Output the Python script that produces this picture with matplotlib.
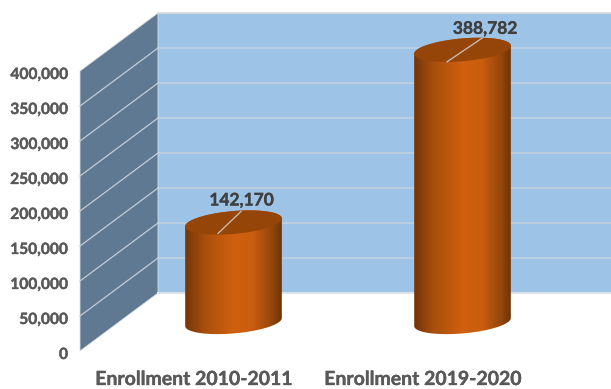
import numpy as np
from matplotlib import pyplot as plt
from matplotlib import patheffects as pe
from matplotlib.colors import LinearSegmentedColormap
from matplotlib.patches import Polygon

categories = ["Enrollment 2010-2011", "Enrollment 2019-2020"]
enrollment = [142170, 388782]
value_labels = ["142,170", "388,782"]
y_ticks = [0, 50000, 100000, 150000, 200000, 250000, 300000, 350000, 400000]
y_tick_labels = ["0", "50,000", "100,000", "150,000", "200,000", "250,000", "300,000", "350,000", "400,000"]

plt.rcParams['font.family'] = ['Lato', 'DejaVu Sans']

W, H = 611, 389
PX_PER_VALUE = 280 / 400000
PX_PER_CAT = 229
WALL_X = 158       # left end of the back wall
FLOOR_Y = 293      # pixel row of value 0 on the back wall
BAR0_X = 233.5
DEPTH_X, DEPTH_Y = 78, 58   # offset between the back wall and the front edge
BAR_DEPTH_Y = 29   # base of a cylinder sits halfway to the front edge


def px_x(x):
    return (np.asarray(x, dtype=float) - BAR0_X) / PX_PER_CAT


def px_y(y):
    return (FLOOR_Y - np.asarray(y, dtype=float)) / PX_PER_VALUE


def ellipse(cx, cy, t, a=48.5, b=11.4, tilt=-5):
    # points on a tilted ellipse, in pixel offsets, y pointing down
    th = np.radians(tilt)
    x = cx + a * np.cos(t) * np.cos(th) - b * np.sin(t) * np.sin(th)
    y = cy + a * np.cos(t) * np.sin(th) + b * np.sin(t) * np.cos(th)
    return x, y


fig = plt.figure(figsize=(W / 100, H / 100), dpi=100)
ax = fig.add_axes([0, 0, 1, 1])
ax.axis("off")

# back wall
ax.fill_between(px_x([WALL_X, W]), 0, max(y_ticks), color="#9DC3E6", lw=0, zorder=1)
ax.plot(px_x([WALL_X, W]), [max(y_ticks)] * 2, color="#D9D9D9", lw=1.2, zorder=2)
ax.plot(px_x([WALL_X, W]), [0, 0], color="#DDE3E8", lw=1.4, zorder=2)

# side wall
side = [
    (px_x(WALL_X), 0),
    (px_x(WALL_X), max(y_ticks)),
    (px_x(WALL_X - DEPTH_X), max(y_ticks) - DEPTH_Y / PX_PER_VALUE),
    (px_x(WALL_X - DEPTH_X), -DEPTH_Y / PX_PER_VALUE),
]
ax.add_patch(Polygon(side, closed=True, fc="#5F7993", ec="#D9DEE3", lw=0.6, zorder=1))

# grid lines on both walls
for v in y_ticks[1:-1]:
    ax.plot(px_x([WALL_X, W]), [v, v], color="#C3D2E0", lw=1.1, zorder=2)
    ax.plot(px_x([WALL_X - DEPTH_X, WALL_X]), [v - DEPTH_Y / PX_PER_VALUE, v],
            color="#C3CCD6", lw=0.9, zorder=2)

# axis labels
for v, lab in zip(y_ticks, y_tick_labels):
    txt = ax.text(px_x(68), v - (DEPTH_Y + 2.5) / PX_PER_VALUE, lab, ha="right", va="center_baseline",
                  fontsize=11.2, fontweight="bold", color="#595959", zorder=5)
    txt.set_path_effects([pe.withStroke(linewidth=0.25, foreground="#595959")])

# cylinders
cmap = LinearSegmentedColormap.from_list("cyl", [
    (0.0, "#723608"), (0.2, "#A84F0D"), (0.5, "#D0600F"),
    (0.7, "#CB5D10"), (0.9, "#93460B"), (1.0, "#6E3407"),
])
grad = np.linspace(0, 1, 256).reshape(1, -1)

for i, (val, lab, cat) in enumerate(zip(enrollment, value_labels, categories)):
    cx = BAR0_X + i * PX_PER_CAT
    base = FLOOR_Y + BAR_DEPTH_Y
    top = base - val * PX_PER_VALUE

    # body outline: lower half of the base ellipse, then back along the top ellipse
    t = np.linspace(0, 2 * np.pi, 200)
    bx, by = ellipse(cx, base, t[:100])
    tx, ty = ellipse(cx, top, t[100:])
    xs = np.concatenate([bx, tx])
    ys = np.concatenate([by, ty])
    body = Polygon(np.column_stack([px_x(xs), px_y(ys)]), closed=True, fc="none", ec="none",
                   transform=ax.transData)
    ax.add_patch(body)
    im = ax.imshow(grad, cmap=cmap, aspect="auto", zorder=3, interpolation="bilinear",
                   extent=[px_x(xs.min()), px_x(xs.max()), px_y(base + 15), px_y(top - 15)])
    im.set_clip_path(body)

    # top cap
    ex, ey = ellipse(cx, top, t)
    ax.add_patch(Polygon(np.column_stack([px_x(ex), px_y(ey)]), closed=True,
                         fc="#964508", ec="none", zorder=4))

    # value label with its leader line
    ax.plot([i - 15.5 / PX_PER_CAT, i + (7.5 + 12.5 * i) / PX_PER_CAT],
            [val - (11 + 1 * i) / PX_PER_VALUE - BAR_DEPTH_Y / PX_PER_VALUE,
             val + (11 + 1 * i) / PX_PER_VALUE - BAR_DEPTH_Y / PX_PER_VALUE],
            color="#C8C4BE", lw=0.9, zorder=5)
    txt = ax.text(i + (8 + 14.5 * i) / PX_PER_CAT,
                  val + (22 - 1 * i) / PX_PER_VALUE - BAR_DEPTH_Y / PX_PER_VALUE, lab,
                  ha="center", va="center", fontsize=12.5, fontweight="bold", color="#404040", zorder=6)
    txt.set_path_effects([pe.withStroke(linewidth=0.25, foreground="#404040")])

    # category label
    txt = ax.text(px_x(194.5 + i * 229), px_y(379.5), cat, ha="center", va="center",
                  fontsize=14, fontweight="bold", color="#595959", zorder=5)
    txt.set_path_effects([pe.withStroke(linewidth=0.25, foreground="#595959")])

ax.set_xlim(px_x(0), px_x(W))
ax.set_ylim(px_y(H), px_y(0))

fig.savefig("out.png", dpi=100)
